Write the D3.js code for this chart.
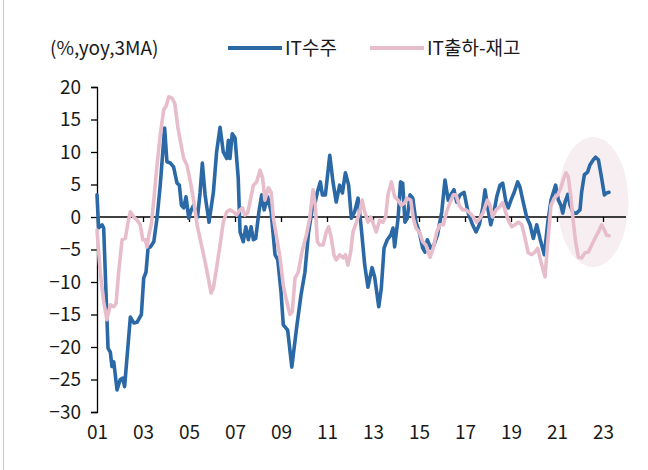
<!DOCTYPE html>
<html>
<head>
<meta charset="utf-8">
<script src="https://cdn.jsdelivr.net/npm/d3@7"></script>
<style>
  body { margin: 0; background: #fff; }
  svg text { font-family: "Noto Sans CJK KR", "Noto Sans", sans-serif; fill: #1a1a1a; }
</style>
</head>
<body>
<svg id="chart"></svg>
<script>
const width = 648;
const height = 470;

// IT수주 (decimal year, %yoy 3MA)
const ordersT = [2001.00,2001.07,2001.22,2001.29,2001.43,2001.48,2001.58,2001.65,2001.73,2001.87,2002.01,2002.12,2002.20,2002.45,2002.60,2002.74,2002.93,2003.03,2003.13,2003.22,2003.32,2003.47,2003.61,2003.75,2003.94,2004.04,2004.19,2004.33,2004.48,2004.58,2004.67,2004.77,2004.87,2004.99,2005.10,2005.20,2005.37,2005.48,2005.58,2005.70,2005.87,2006.06,2006.20,2006.35,2006.49,2006.64,2006.71,2006.78,2006.88,2007.00,2007.14,2007.22,2007.36,2007.47,2007.58,2007.70,2007.80,2007.90,2008.04,2008.16,2008.27,2008.42,2008.57,2008.74,2008.86,2009.00,2009.10,2009.29,2009.47,2009.68,2009.87,2010.04,2010.20,2010.35,2010.49,2010.58,2010.71,2010.80,2010.93,2011.12,2011.26,2011.40,2011.55,2011.67,2011.80,2011.94,2012.06,2012.20,2012.35,2012.49,2012.64,2012.78,2012.96,2013.07,2013.25,2013.36,2013.48,2013.62,2013.77,2013.87,2013.94,2014.09,2014.20,2014.29,2014.39,2014.49,2014.61,2014.73,2014.87,2015.01,2015.16,2015.26,2015.36,2015.51,2015.65,2015.80,2015.99,2016.13,2016.27,2016.38,2016.52,2016.64,2016.78,2016.96,2017.14,2017.33,2017.48,2017.62,2017.77,2017.87,2017.97,2018.12,2018.26,2018.38,2018.52,2018.64,2018.78,2018.88,2019.00,2019.14,2019.29,2019.39,2019.53,2019.68,2019.83,2019.97,2020.12,2020.26,2020.45,2020.60,2020.74,2020.94,2021.06,2021.17,2021.25,2021.35,2021.47,2021.57,2021.71,2021.86,2022.00,2022.07,2022.19,2022.33,2022.43,2022.58,2022.68,2022.80,2022.94,2023.06,2023.16,2023.26];
const ordersV = [3.4,-1.7,-1.2,-1.7,-15.5,-20.2,-20.8,-23,-22.3,-26.6,-25,-24.8,-26.1,-15.4,-16.3,-16.2,-15,-9.4,-8.5,-4.8,-4.6,-3.8,-0.2,4.9,13.7,8.5,8.3,7.7,5.2,4.9,1.8,1.4,3.1,-0.2,1.1,1.8,0,3.7,8.3,3.4,-0.8,3.8,10,13.8,10,9,11.8,9,12.8,12.2,6,-2.3,-3.8,-1.5,-3.5,-1.5,-3.5,-3.3,0.8,3.4,1.1,3.1,0.8,-5.8,-6.6,-11.5,-16.6,-17.4,-23.1,-17,-12,-8.5,-2.3,1.1,2.3,3.8,5.4,3.4,3.4,9.5,5.4,2.3,4.9,3.7,6.8,4.9,-0.2,0.8,2.9,-1.7,-7.4,-10.8,-7.8,-9.2,-13.8,-11,-4.8,-3.5,-2.8,-1.7,-4.6,-0.2,5.4,5.2,-0.8,-0.2,3.4,2.9,-0.8,-2.3,-4.8,-5.4,-3.5,-4.8,-4.3,-2.8,0.8,5.7,2.6,3.4,4.2,2.3,3.4,3.8,0.6,-1.2,-2.3,-1.2,1.4,4.2,1.8,-1.2,0.8,3.1,4.9,5.2,2.3,1.4,2.6,3.8,5.4,4.6,2.3,0,-1.2,-3.3,-1.2,-3.3,-5.8,-0.8,2.6,4.9,2.6,1.8,0.6,2.3,3.5,1.8,0.6,0.6,1.1,3.8,6.5,6.9,8,8.8,9.2,8.8,6,3.4,3.7,3.8];

// IT출하-재고 (decimal year, %yoy 3MA)
const shipT = [2001.00,2001.14,2001.29,2001.43,2001.58,2001.73,2001.83,2001.94,2002.09,2002.23,2002.35,2002.45,2002.60,2002.74,2002.88,2002.99,2003.10,2003.17,2003.27,2003.36,2003.47,2003.61,2003.75,2003.90,2004.00,2004.12,2004.26,2004.38,2004.52,2004.67,2004.77,2004.91,2005.06,2005.20,2005.35,2005.48,2005.70,2005.84,2005.96,2006.06,2006.20,2006.35,2006.49,2006.64,2006.78,2006.93,2007.07,2007.22,2007.32,2007.43,2007.55,2007.65,2007.80,2007.94,2008.09,2008.20,2008.30,2008.45,2008.57,2008.67,2008.81,2008.96,2009.10,2009.25,2009.39,2009.49,2009.61,2009.75,2009.91,2010.10,2010.25,2010.39,2010.49,2010.58,2010.68,2010.83,2010.97,2011.07,2011.19,2011.30,2011.40,2011.55,2011.70,2011.80,2011.91,2012.03,2012.13,2012.27,2012.42,2012.53,2012.64,2012.78,2012.90,2013.00,2013.14,2013.29,2013.43,2013.55,2013.65,2013.80,2013.94,2014.09,2014.23,2014.38,2014.47,2014.64,2014.75,2014.87,2015.01,2015.16,2015.30,2015.48,2015.62,2015.77,2015.91,2016.06,2016.20,2016.35,2016.49,2016.61,2016.75,2016.90,2017.04,2017.22,2017.36,2017.51,2017.65,2017.80,2017.97,2018.09,2018.20,2018.35,2018.49,2018.64,2018.78,2018.88,2019.03,2019.17,2019.32,2019.47,2019.61,2019.75,2019.90,2020.04,2020.16,2020.30,2020.48,2020.60,2020.74,2020.88,2021.03,2021.17,2021.27,2021.39,2021.49,2021.61,2021.71,2021.81,2021.93,2022.07,2022.22,2022.36,2022.51,2022.65,2022.80,2022.94,2023.06,2023.16,2023.26];
const shipV = [-2,-8.5,-13,-15.8,-13.5,-13.8,-13.3,-8.5,-3.5,-3.3,-0.8,0.8,0,-0.5,-1.2,-3.5,-3.5,-4.6,-2.5,-1.2,2.6,8,12.6,16.5,17,18.5,18.3,17.5,13.7,10.8,9,8,5.4,2.6,-1.2,-3.3,-6.9,-9.4,-11.7,-10.9,-7.8,-4.3,-0.8,0.8,1.1,0.8,0.3,1.1,1.4,0.3,0.6,2.3,4.9,5.4,7.2,6,2.6,4.5,3.8,-0.2,-3.1,-6.3,-10.5,-13,-15,-14.6,-9.4,-8.5,-5.4,-2.8,-0.2,4.2,1.8,-3.8,-4.3,-4.3,-2.3,-1.5,-3.3,-5.8,-6.6,-5.8,-6.3,-5.8,-7.4,-5.4,-2.3,-0.9,0.8,2.6,0.8,-0.8,0,-0.9,-2.3,-0.5,-0.8,0,3.4,5.4,3.1,2.6,1.8,2.2,2.9,2.6,-0.2,-1.7,-2.3,-3.8,-4.3,-6.2,-4.8,-2.3,-1.2,-1.2,0.8,2.2,3.4,3.4,1.8,1.1,1.1,0.6,0,-0.8,-0.2,0.8,2.6,1.8,0,1.1,1.5,2.2,0.6,-0.5,-1.5,-1.2,-0.8,-1.2,-3.3,-5.5,-5.8,-5.4,-4.8,-6.9,-9.2,-3.8,1.8,2.9,3.4,4.5,5.7,6.8,6.2,2.9,-0.8,-3.8,-6.2,-6.3,-5.5,-5.4,-4.3,-3.3,-2.3,-1.2,-2,-2.8,-2.9];

const yTicks = [20, 15, 10, 5, 0, -5, -10, -15, -20, -25, -30];
const xTicks = [2001, 2003, 2005, 2007, 2009, 2011, 2013, 2015, 2017, 2019, 2021, 2023];
const unitLabel = "(%,yoy,3MA)";
const seriesNames = ["IT수주", "IT출하-재고"];
const seriesColors = ["#2b69a6", "#e8bdcb"];

// highlight ellipse (centre year, centre value, half-width in years, half-height in %)
const highlight = {cx: 2022.57, cy: 2.3, rx: 1.54, ry: 10};

const orders = ordersT.map((t, i) => ({t: t, v: ordersV[i]}));
const ship = shipT.map((t, i) => ({t: t, v: shipV[i]}));

const svg = d3.select("#chart")
  .attr("width", width)
  .attr("height", height);

const x = d3.scaleLinear().domain([2001, 2024]).range([97, 626]);
const y = d3.scaleLinear().domain([-30, 20]).range([412, 87]);

// frame line at left edge
svg.append("line")
  .attr("x1", 3.5).attr("x2", 3.5)
  .attr("y1", 0).attr("y2", height)
  .attr("stroke", "#c8c8c8");

// highlight
svg.append("ellipse")
  .attr("cx", x(highlight.cx))
  .attr("cy", y(highlight.cy))
  .attr("rx", x(highlight.cx + highlight.rx) - x(highlight.cx))
  .attr("ry", y(highlight.cy - highlight.ry) - y(highlight.cy))
  .attr("fill", "#f7eef2");

// y axis
const yAxis = svg.append("g")
  .attr("transform", `translate(${x(2001)},0)`)
  .call(d3.axisLeft(y).tickValues(yTicks).tickSize(6).tickPadding(10)
    .tickFormat(d => d < 0 ? "\u2212" + Math.abs(d) : d));
yAxis.select(".domain").attr("stroke", "#000").attr("stroke-width", 1.3);
yAxis.selectAll(".tick line").attr("stroke", "#000").attr("stroke-width", 1.3);
yAxis.selectAll("text").attr("font-size", 19).attr("fill", "#1a1a1a");

// zero line with year ticks
const zAxis = svg.append("g")
  .attr("transform", `translate(0,${y(0)})`)
  .call(d3.axisBottom(x).tickValues(xTicks).tickSize(5).tickFormat(""));
zAxis.select(".domain").attr("stroke", "#000").attr("stroke-width", 1.5).attr("d", `M${x(2001)},0H${x(2024)}`);
zAxis.selectAll(".tick line").attr("stroke", "#000").attr("stroke-width", 1.3);

// year labels at the bottom
const xAxis = svg.append("g")
  .attr("transform", `translate(0,${y(-30)})`)
  .call(d3.axisBottom(x).tickValues(xTicks).tickSize(0).tickPadding(14)
    .tickFormat(d => String(d).slice(2)));
xAxis.select(".domain").remove();
xAxis.selectAll("text").attr("font-size", 19).attr("fill", "#1a1a1a");

const line = d3.line()
  .x(d => x(d.t))
  .y(d => y(d.v));

svg.append("path")
  .datum(orders)
  .attr("d", line)
  .attr("fill", "none")
  .attr("stroke", seriesColors[0])
  .attr("stroke-width", 3.6)
  .attr("stroke-linejoin", "round")
  .attr("stroke-linecap", "round");

svg.append("path")
  .datum(ship)
  .attr("d", line)
  .attr("fill", "none")
  .attr("stroke", seriesColors[1])
  .attr("stroke-width", 3.6)
  .attr("stroke-linejoin", "round")
  .attr("stroke-linecap", "round");

// unit label + legend
svg.append("text")
  .attr("x", 50).attr("y", 55)
  .attr("font-size", 19)
  .text(unitLabel);

const legendX = [228, 370];
seriesNames.forEach((name, i) => {
  svg.append("line")
    .attr("x1", legendX[i]).attr("x2", legendX[i] + 54)
    .attr("y1", 48).attr("y2", 48)
    .attr("stroke", seriesColors[i])
    .attr("stroke-width", 4);
  svg.append("text")
    .attr("x", legendX[i] + 57).attr("y", 55)
    .attr("font-size", 19)
    .text(name);
});
</script>
</body>
</html>
